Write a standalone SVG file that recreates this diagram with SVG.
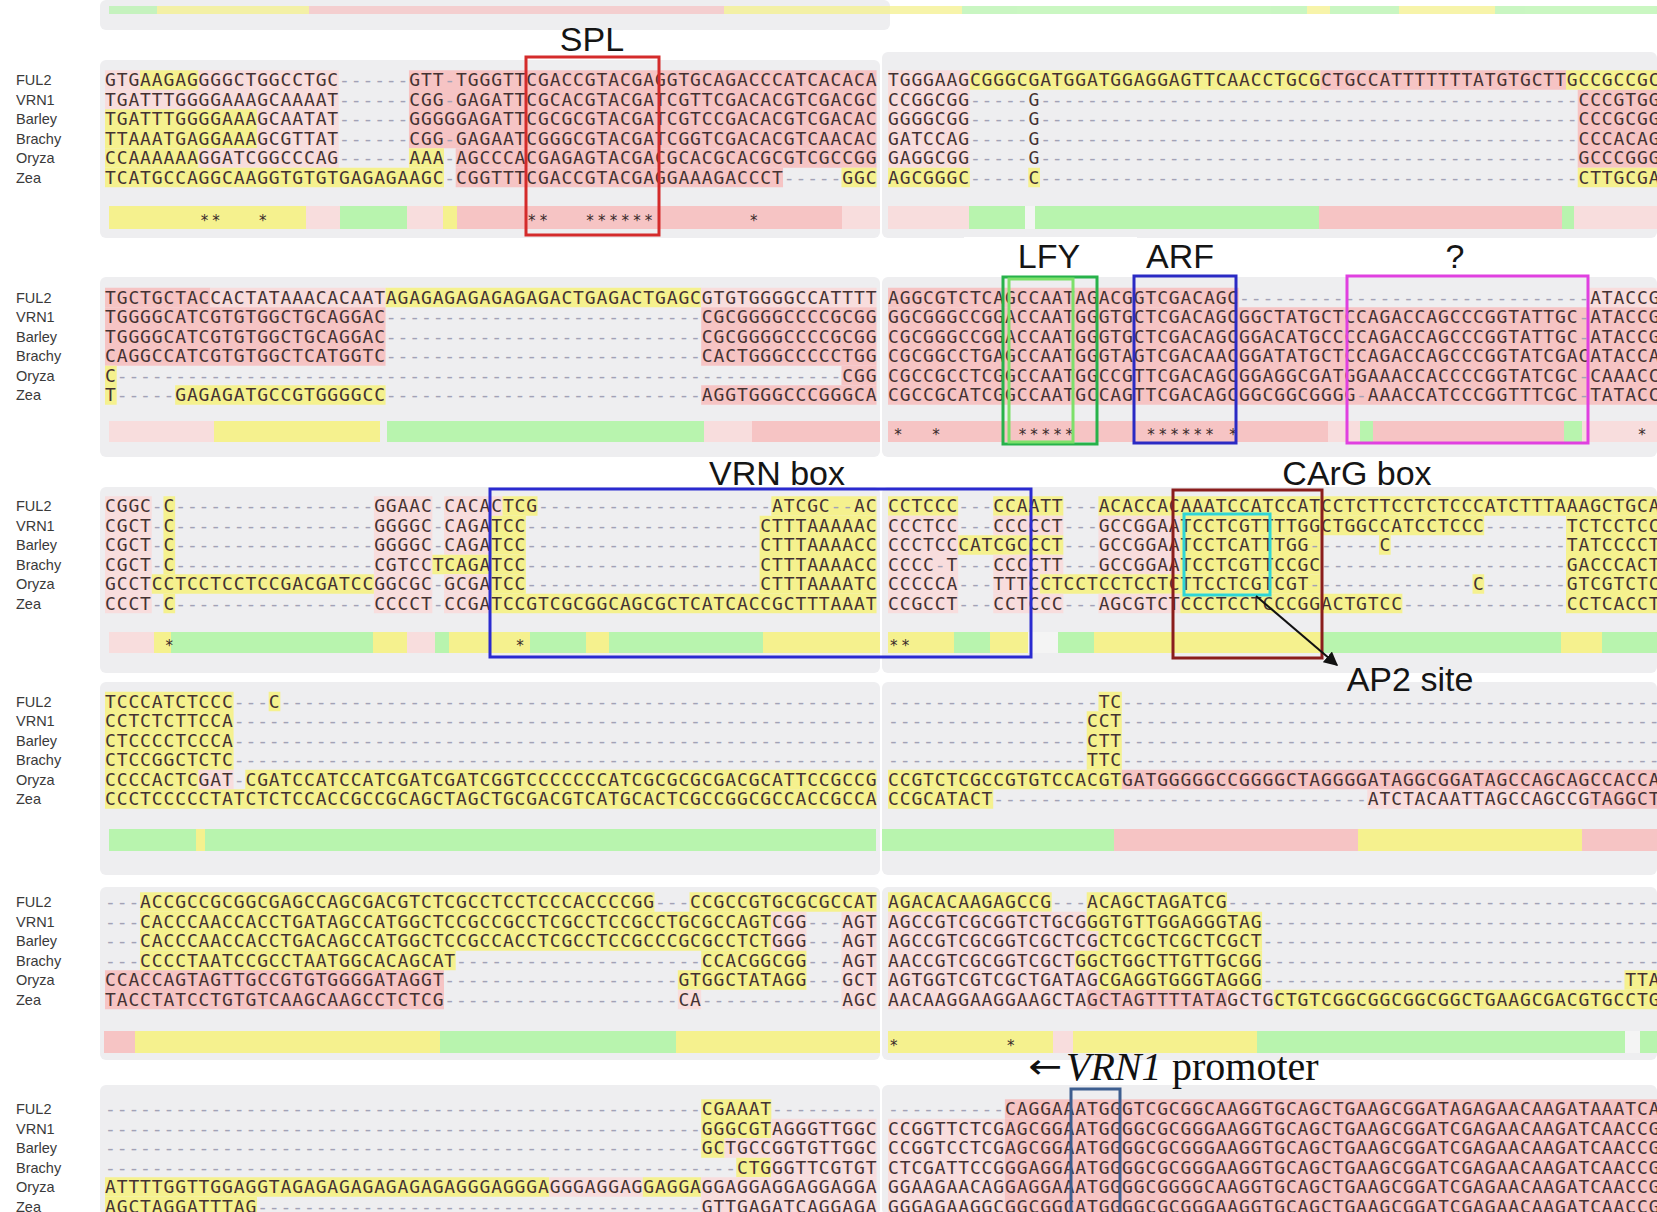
<svg xmlns="http://www.w3.org/2000/svg" width="1657" height="1212" viewBox="0 0 1657 1212">
<defs>
<style>
.s{font-family:"DejaVu Sans Mono","Liberation Mono",monospace;font-size:18px;fill:#443232}
.d{fill:#a2a2b6}
.lab{font-family:"Liberation Sans",Arial,sans-serif;font-size:14.5px;fill:#3a3a3a}
.ann{font-family:"Liberation Sans",Arial,sans-serif;font-size:34px;fill:#151515;text-anchor:middle}
.st{font-family:"DejaVu Sans Mono",monospace;font-size:15px;fill:#3a2a2a;text-anchor:middle}
.Y{fill:#f5f18e}.P{fill:#f6c4c4}.Q{fill:#f8dddd}.G{fill:#b8f4ae}.L{fill:#f4f4f4}
.pan{fill:#eeeef0}
.box{fill:none;stroke-width:3}
</style>
<marker id="ah" viewBox="0 0 10 10" refX="9" refY="5" markerWidth="7" markerHeight="7" orient="auto">
<path d="M0,0 L10,5 L0,10 z" fill="#111"/>
</marker>
</defs>
<rect x="0" y="0" width="1657" height="1212" fill="#ffffff"/>

<g id="top-strip">
<rect class="pan" x="100" y="0" width="790" height="30" rx="6"/>
<g opacity="0.75">
<rect class="G" x="109" y="6" width="48" height="8"/>
<rect class="Y" x="157" y="6" width="152" height="8"/>
<rect class="P" x="309" y="6" width="415" height="8"/>
<rect class="Y" x="724" y="6" width="238" height="8"/>
<rect class="G" x="962" y="6" width="345" height="8"/>
<rect class="Y" x="1307" y="6" width="23" height="8"/>
<rect class="G" x="1330" y="6" width="69" height="8"/>
<rect class="Y" x="1399" y="6" width="96" height="8"/>
<rect class="G" x="1495" y="6" width="162" height="8"/>
</g>
</g>

<!-- BLOCK 1 -->
<g id="block1">
<rect class="pan" x="100" y="60" width="780" height="178" rx="6"/>
<rect class="pan" x="882" y="52" width="775" height="186" rx="6"/>
<g transform="translate(105 70.25) scale(11.69 1)">
<rect class="P" x="26" y="0" width="40" height="78"/>
<rect class="P" x="30" y="78" width="36" height="19.5"/>
<rect class="P" x="30" y="97.5" width="28" height="19.5"/>
<rect class="Q" x="0" y="0" width="3" height="19.5"/>
<rect class="Y" x="3" y="0" width="5" height="19.5"/>
<rect class="Q" x="8" y="0" width="12" height="19.5"/>
<rect class="Q" x="0" y="19.5" width="20" height="19.5"/>
<rect class="Y" x="0" y="39" width="13" height="39"/>
<rect class="Q" x="13" y="39" width="7" height="39"/>
<rect class="Y" x="0" y="78" width="8" height="19.5"/>
<rect class="Q" x="8" y="78" width="12" height="19.5"/>
<rect class="Y" x="26" y="78" width="3" height="19.5"/>
<rect class="Y" x="0" y="97.5" width="29" height="19.5"/>
<rect class="Y" x="63" y="97.5" width="3" height="19.5"/>
</g>
<g transform="translate(888 70.25) scale(11.69 1)">
<rect class="Q" x="0" y="0" width="7" height="97.5"/>
<rect class="Y" x="7" y="0" width="30" height="19.5"/>
<rect class="P" x="37" y="0" width="21" height="19.5"/>
<rect class="Y" x="58" y="0" width="8" height="19.5"/>
<rect class="P" x="59" y="19.5" width="7" height="78"/>
<rect class="Y" x="0" y="97.5" width="7" height="19.5"/>
<rect class="Y" x="12" y="97.5" width="1" height="19.5"/>
<rect class="Y" x="59" y="97.5" width="7" height="19.5"/>
</g>
<g>
<rect class="Y" x="109" y="206" width="197" height="23"/>
<rect class="Q" x="306" y="206" width="34" height="23"/>
<rect class="G" x="340" y="206" width="67" height="23"/>
<rect class="Q" x="407" y="206" width="36" height="23"/>
<rect class="Y" x="443" y="206" width="14" height="23"/>
<rect class="P" x="457" y="206" width="385" height="23"/>
<rect class="Q" x="842" y="206" width="38" height="23"/>
<rect class="Q" x="888" y="206" width="81" height="23"/>
<rect class="G" x="969" y="206" width="56" height="23"/>
<rect class="L" x="1025" y="206" width="10" height="23"/>
<rect class="G" x="1035" y="206" width="284" height="23"/>
<rect class="P" x="1319" y="206" width="243" height="23"/>
<rect class="G" x="1562" y="206" width="12" height="23"/>
<rect class="Q" x="1574" y="206" width="83" height="23"/>
</g>
<text class="st" x="204.4 216.1 262.8 531.7 543.4 590.1 601.8 613.5 625.2 636.9 648.6 753.8" y="226">************</text>
<g transform="translate(0 80)">
<text class="lab" x="16" y="5">FUL2</text>
<text class="lab" x="16" y="24.5">VRN1</text>
<text class="lab" x="16" y="44">Barley</text>
<text class="lab" x="16" y="63.5">Brachy</text>
<text class="lab" x="16" y="83">Oryza</text>
<text class="lab" x="16" y="102.5">Zea</text>
<text class="s" x="105" y="6" textLength="771.5" lengthAdjust="spacing">GTGAAGAGGGGCTGGCCTGC<tspan class="d">------</tspan>GTT<tspan class="d">-</tspan>TGGGTTCGACCGTACGAGGTGCAGACCCATCACACA</text>
<text class="s" x="105" y="25.5" textLength="771.5" lengthAdjust="spacing">TGATTTGGGGAAAGCAAAAT<tspan class="d">------</tspan>CGG<tspan class="d">-</tspan>GAGATTCGCACGTACGATCGTTCGACACGTCGACGC</text>
<text class="s" x="105" y="45" textLength="771.5" lengthAdjust="spacing">TGATTTGGGGAAAGCAATAT<tspan class="d">------</tspan>GGGGGAGATTCGCGCGTACGATCGTCCGACACGTCGACAC</text>
<text class="s" x="105" y="64.5" textLength="771.5" lengthAdjust="spacing">TTAAATGAGGAAAGCGTTAT<tspan class="d">------</tspan>CGG<tspan class="d">-</tspan>GAGAATCGGGCGTACGATCGGTCGACACGTCAACAC</text>
<text class="s" x="105" y="84" textLength="771.5" lengthAdjust="spacing">CCAAAAAAGGATCGGCCCAG<tspan class="d">------</tspan>AAA<tspan class="d">-</tspan>AGCCCACGAGAGTACGACGCACGCACGCGTCGCCGG</text>
<text class="s" x="105" y="103.5" textLength="771.5" lengthAdjust="spacing">TCATGCCAGGCAAGGTGTGTGAGAGAAGC<tspan class="d">-</tspan>CGGTTTCGACCGTACGAGGAAAGACCCT<tspan class="d">-----</tspan>GGC</text>
<text class="s" x="888" y="6" textLength="771.5" lengthAdjust="spacing">TGGGAAGCGGGCGATGGATGGAGGAGTTCAACCTGCGCTGCCATTTTTTTATGTGCTTGCCGCCGC</text>
<text class="s" x="888" y="25.5" textLength="771.5" lengthAdjust="spacing">CCGGCGG<tspan class="d">-----</tspan>G<tspan class="d">----------------------------------------------</tspan>CCCGTGG</text>
<text class="s" x="888" y="45" textLength="771.5" lengthAdjust="spacing">GGGGCGG<tspan class="d">-----</tspan>G<tspan class="d">----------------------------------------------</tspan>CCCGCGG</text>
<text class="s" x="888" y="64.5" textLength="771.5" lengthAdjust="spacing">GATCCAG<tspan class="d">-----</tspan>G<tspan class="d">----------------------------------------------</tspan>CCCACAG</text>
<text class="s" x="888" y="84" textLength="771.5" lengthAdjust="spacing">GAGGCGG<tspan class="d">-----</tspan>G<tspan class="d">----------------------------------------------</tspan>GCCCGGG</text>
<text class="s" x="888" y="103.5" textLength="771.5" lengthAdjust="spacing">AGCGGGC<tspan class="d">-----</tspan>C<tspan class="d">----------------------------------------------</tspan>CTTGCGA</text>
</g>
</g>

<!-- BLOCK 2 -->
<g id="block2">
<rect class="pan" x="100" y="277" width="780" height="180" rx="6"/>
<rect class="pan" x="882" y="277" width="775" height="180" rx="6"/>
<g transform="translate(105 287.75) scale(11.69 1)">
<rect class="P" x="0" y="0" width="9" height="19.5"/>
<rect class="Q" x="9" y="0" width="15" height="19.5"/>
<rect class="Y" x="24" y="0" width="27" height="19.5"/>
<rect class="Q" x="51" y="0" width="15" height="19.5"/>
<rect class="P" x="0" y="19.5" width="24" height="58.5"/>
<rect class="P" x="51" y="19.5" width="15" height="58.5"/>
<rect class="Y" x="0" y="78" width="1" height="39"/>
<rect class="P" x="63" y="78" width="3" height="19.5"/>
<rect class="Y" x="6" y="97.5" width="18" height="19.5"/>
<rect class="P" x="51" y="97.5" width="15" height="19.5"/>
</g>
<g transform="translate(888 287.75) scale(11.69 1)">
<rect class="P" x="0" y="0" width="30" height="19.5"/>
<rect class="Q" x="60" y="0" width="6" height="19.5"/>
<rect class="P" x="0" y="19.5" width="66" height="97.5"/>
</g>
<g>
<rect class="Q" x="109" y="421" width="105" height="21"/>
<rect class="Y" x="214" y="421" width="166" height="21"/>
<rect class="G" x="387" y="421" width="317" height="21"/>
<rect class="Q" x="704" y="421" width="48" height="21"/>
<rect class="P" x="752" y="421" width="128" height="21"/>
<rect class="P" x="888" y="421" width="440" height="21"/>
<rect class="Q" x="1328" y="421" width="32" height="21"/>
<rect class="G" x="1360" y="421" width="13" height="21"/>
<rect class="P" x="1373" y="421" width="191" height="21"/>
<rect class="G" x="1564" y="421" width="18" height="21"/>
<rect class="Q" x="1582" y="421" width="75" height="21"/>
</g>
<text class="st" x="898 936 1022.4 1034.1 1045.8 1057.5 1069.2 1151 1162.7 1174.4 1186.1 1197.8 1209.5 1232.9 1642" y="440">***************</text>
<g transform="translate(0 297.5)">
<text class="lab" x="16" y="5">FUL2</text>
<text class="lab" x="16" y="24.5">VRN1</text>
<text class="lab" x="16" y="44">Barley</text>
<text class="lab" x="16" y="63.5">Brachy</text>
<text class="lab" x="16" y="83">Oryza</text>
<text class="lab" x="16" y="102.5">Zea</text>
<text class="s" x="105" y="6" textLength="771.5" lengthAdjust="spacing">TGCTGCTACCACTATAAACACAATAGAGAGAGAGAGAGACTGAGACTGAGCGTGTGGGGCCATTTT</text>
<text class="s" x="105" y="25.5" textLength="771.5" lengthAdjust="spacing">TGGGGCATCGTGTGGCTGCAGGAC<tspan class="d">---------------------------</tspan>CGCGGGGCCCCGCGG</text>
<text class="s" x="105" y="45" textLength="771.5" lengthAdjust="spacing">TGGGGCATCGTGTGGCTGCAGGAC<tspan class="d">---------------------------</tspan>CGCGGGGCCCCGCGG</text>
<text class="s" x="105" y="64.5" textLength="771.5" lengthAdjust="spacing">CAGGCCATCGTGTGGCTCATGGTC<tspan class="d">---------------------------</tspan>CACTGGGCCCCCTGG</text>
<text class="s" x="105" y="84" textLength="771.5" lengthAdjust="spacing">C<tspan class="d">--------------------------------------------------------------</tspan>CGG</text>
<text class="s" x="105" y="103.5" textLength="771.5" lengthAdjust="spacing">T<tspan class="d">-----</tspan>GAGAGATGCCGTGGGGCC<tspan class="d">---------------------------</tspan>AGGTGGGCCCGGGCA</text>
<text class="s" x="888" y="6" textLength="771.5" lengthAdjust="spacing">AGGCGTCTCAGCCAATAGACGGTCGACAGC<tspan class="d">------------------------------</tspan>ATACCG</text>
<text class="s" x="888" y="25.5" textLength="771.5" lengthAdjust="spacing">GGCGGGCCGGACCAATGGGTGCTCGACAGCGGCTATGCTCCAGACCAGCCCGGTATTGC<tspan class="d">-</tspan>ATACCG</text>
<text class="s" x="888" y="45" textLength="771.5" lengthAdjust="spacing">CGCGGGCCGGACCAATGGGTGCTCGACAGCGGACATGCCCCAGACCAGCCCGGTATTGC<tspan class="d">-</tspan>ATACCG</text>
<text class="s" x="888" y="64.5" textLength="771.5" lengthAdjust="spacing">CGCGGCCTGAGCCAATGGGTAGTCGACAACGGATATGCTCCAGACCAGCCCGGTATCGACATACCA</text>
<text class="s" x="888" y="84" textLength="771.5" lengthAdjust="spacing">CGCCGCCTCGGCCAATGGCCGTTCGACAGCGGAGGCGATGGAAACCACCCCGGTATCGC<tspan class="d">-</tspan>CAAACC</text>
<text class="s" x="888" y="103.5" textLength="771.5" lengthAdjust="spacing">CGCCGCATCGGCCAATGCCAGTTCGACAGCGGCGGCGGGG<tspan class="d">-</tspan>AAACCATCCCGGTTTCGC<tspan class="d">-</tspan>TATACC</text>
</g>
</g>

<!-- BLOCK 3 -->
<g id="block3">
<rect class="pan" x="100" y="487" width="780" height="186" rx="6"/>
<rect class="pan" x="882" y="487" width="775" height="186" rx="6"/>
<g transform="translate(105 496.25) scale(11.69 1)">
<rect class="Q" x="0" y="0" width="4" height="117"/>
<rect class="Y" x="5" y="0" width="1" height="78"/>
<rect class="Y" x="5" y="97.5" width="1" height="19.5"/>
<rect class="Q" x="23" y="0" width="5" height="117"/>
<rect class="Q" x="29" y="0" width="5" height="19.5"/>
<rect class="Y" x="34" y="0" width="3" height="19.5"/>
<rect class="Y" x="57" y="0" width="9" height="19.5"/>
<rect class="Q" x="29" y="19.5" width="4" height="39"/>
<rect class="Y" x="33" y="19.5" width="3" height="39"/>
<rect class="Y" x="56" y="19.5" width="10" height="78"/>
<rect class="Y" x="28" y="58.5" width="8" height="19.5"/>
<rect class="Y" x="4" y="78" width="19" height="19.5"/>
<rect class="Q" x="29" y="78" width="4" height="19.5"/>
<rect class="Y" x="33" y="78" width="3" height="19.5"/>
<rect class="Q" x="29" y="97.5" width="4" height="19.5"/>
<rect class="Y" x="33" y="97.5" width="33" height="19.5"/>
</g>
<g transform="translate(888 496.25) scale(11.69 1)">
<rect class="Y" x="0" y="0" width="6" height="19.5"/>
<rect class="Y" x="9" y="0" width="6" height="19.5"/>
<rect class="Y" x="18" y="0" width="48" height="19.5"/>
<rect class="Q" x="0" y="19.5" width="6" height="97.5"/>
<rect class="Q" x="9" y="19.5" width="6" height="19.5"/>
<rect class="Q" x="18" y="19.5" width="7" height="19.5"/>
<rect class="Y" x="25" y="19.5" width="26" height="19.5"/>
<rect class="Y" x="58" y="19.5" width="8" height="97.5"/>
<rect class="Y" x="6" y="39" width="9" height="19.5"/>
<rect class="Q" x="18" y="39" width="7" height="39"/>
<rect class="Y" x="25" y="39" width="12" height="39"/>
<rect class="Y" x="42" y="39" width="1" height="19.5"/>
<rect class="Q" x="9" y="58.5" width="6" height="19.5"/>
<rect class="Q" x="9" y="78" width="4" height="19.5"/>
<rect class="Y" x="13" y="78" width="24" height="19.5"/>
<rect class="Y" x="50" y="78" width="1" height="19.5"/>
<rect class="Q" x="9" y="97.5" width="6" height="19.5"/>
<rect class="Q" x="18" y="97.5" width="7" height="19.5"/>
<rect class="Y" x="25" y="97.5" width="19" height="19.5"/>
</g>
<g>
<rect class="Q" x="109" y="632" width="45" height="21"/>
<rect class="Y" x="154" y="632" width="17" height="21"/>
<rect class="G" x="171" y="632" width="202" height="21"/>
<rect class="Y" x="373" y="632" width="34" height="21"/>
<rect class="Q" x="407" y="632" width="28" height="21"/>
<rect class="G" x="435" y="632" width="14" height="21"/>
<rect class="Y" x="449" y="632" width="81" height="21"/>
<rect class="G" x="530" y="632" width="56" height="21"/>
<rect class="Y" x="586" y="632" width="23" height="21"/>
<rect class="G" x="609" y="632" width="154" height="21"/>
<rect class="Y" x="763" y="632" width="117" height="21"/>
<rect class="Y" x="888" y="632" width="66" height="21"/>
<rect class="G" x="954" y="632" width="36" height="21"/>
<rect class="Y" x="990" y="632" width="38" height="21"/>
<rect class="L" x="1028" y="632" width="30" height="21"/>
<rect class="G" x="1058" y="632" width="36" height="21"/>
<rect class="Y" x="1094" y="632" width="229" height="21"/>
<rect class="G" x="1323" y="632" width="238" height="21"/>
<rect class="Y" x="1561" y="632" width="41" height="21"/>
<rect class="G" x="1602" y="632" width="55" height="21"/>
</g>
<text class="st" x="169.3 520 893.8 905.5" y="651">****</text>
<g transform="translate(0 506)">
<text class="lab" x="16" y="5">FUL2</text>
<text class="lab" x="16" y="24.5">VRN1</text>
<text class="lab" x="16" y="44">Barley</text>
<text class="lab" x="16" y="63.5">Brachy</text>
<text class="lab" x="16" y="83">Oryza</text>
<text class="lab" x="16" y="102.5">Zea</text>
<text class="s" x="105" y="6" textLength="771.5" lengthAdjust="spacing">CGGC<tspan class="d">-</tspan>C<tspan class="d">-----------------</tspan>GGAAC<tspan class="d">-</tspan>CACACTCG<tspan class="d">--------------------</tspan>ATCGC<tspan class="d">--</tspan>AC</text>
<text class="s" x="105" y="25.5" textLength="771.5" lengthAdjust="spacing">CGCT<tspan class="d">-</tspan>C<tspan class="d">-----------------</tspan>GGGGC<tspan class="d">-</tspan>CAGATCC<tspan class="d">--------------------</tspan>CTTTAAAAAC</text>
<text class="s" x="105" y="45" textLength="771.5" lengthAdjust="spacing">CGCT<tspan class="d">-</tspan>C<tspan class="d">-----------------</tspan>GGGGC<tspan class="d">-</tspan>CAGATCC<tspan class="d">--------------------</tspan>CTTTAAAACC</text>
<text class="s" x="105" y="64.5" textLength="771.5" lengthAdjust="spacing">CGCT<tspan class="d">-</tspan>C<tspan class="d">-----------------</tspan>CGTCCTCAGATCC<tspan class="d">--------------------</tspan>CTTTAAAACC</text>
<text class="s" x="105" y="84" textLength="771.5" lengthAdjust="spacing">GCCTCCTCCTCCTCCGACGATCCGGCGC<tspan class="d">-</tspan>GCGATCC<tspan class="d">--------------------</tspan>CTTTAAAATC</text>
<text class="s" x="105" y="103.5" textLength="771.5" lengthAdjust="spacing">CCCT<tspan class="d">-</tspan>C<tspan class="d">-----------------</tspan>CCCCT<tspan class="d">-</tspan>CCGATCCGTCGCGGCAGCGCTCATCACCGCTTTAAAT</text>
<text class="s" x="888" y="6" textLength="771.5" lengthAdjust="spacing">CCTCCC<tspan class="d">---</tspan>CCAATT<tspan class="d">---</tspan>ACACCACAAATCCATCCATCCTCTTCCTCTCCCATCTTTAAAGCTGCA</text>
<text class="s" x="888" y="25.5" textLength="771.5" lengthAdjust="spacing">CCCTCC<tspan class="d">---</tspan>CCCCCT<tspan class="d">---</tspan>GCCGGAATCCTCGTTTTGGCTGGCCATCCTCCC<tspan class="d">-------</tspan>TCTCCTCC</text>
<text class="s" x="888" y="45" textLength="771.5" lengthAdjust="spacing">CCCTCCCATCGCCCT<tspan class="d">---</tspan>GCCGGAATCCTCATTTGG<tspan class="d">------</tspan>C<tspan class="d">---------------</tspan>TATCCCCT</text>
<text class="s" x="888" y="64.5" textLength="771.5" lengthAdjust="spacing">CCCC<tspan class="d">-</tspan>T<tspan class="d">---</tspan>CCCCTT<tspan class="d">---</tspan>GCCGGAATCCTCGTTCCGC<tspan class="d">---------------------</tspan>GACCCACT</text>
<text class="s" x="888" y="84" textLength="771.5" lengthAdjust="spacing">CCCCCA<tspan class="d">---</tspan>TTTCCTCCTCCTCCTCTTCCTCGTCGT<tspan class="d">--------------</tspan>C<tspan class="d">-------</tspan>GTCGTCTC</text>
<text class="s" x="888" y="103.5" textLength="771.5" lengthAdjust="spacing">CCGCCT<tspan class="d">---</tspan>CCTCCC<tspan class="d">---</tspan>AGCGTCTCCCTCCTCCCGGACTGTCC<tspan class="d">--------------</tspan>CCTCACCT</text>
</g>
</g>

<!-- BLOCK 4 -->
<g id="block4">
<rect class="pan" x="100" y="682" width="780" height="193" rx="6"/>
<rect class="pan" x="882" y="682" width="775" height="193" rx="6"/>
<g transform="translate(105 691.75) scale(11.69 1)">
<rect class="Y" x="0" y="0" width="11" height="78"/>
<rect class="Y" x="14" y="0" width="1" height="19.5"/>
<rect class="Y" x="0" y="78" width="8" height="19.5"/>
<rect class="Q" x="8" y="78" width="3" height="19.5"/>
<rect class="Y" x="12" y="78" width="54" height="19.5"/>
<rect class="Y" x="0" y="97.5" width="66" height="19.5"/>
</g>
<g transform="translate(888 691.75) scale(11.69 1)">
<rect class="Y" x="18" y="0" width="2" height="19.5"/>
<rect class="Y" x="17" y="19.5" width="3" height="58.5"/>
<rect class="Y" x="0" y="78" width="20" height="19.5"/>
<rect class="P" x="20" y="78" width="46" height="19.5"/>
<rect class="Y" x="0" y="97.5" width="9" height="19.5"/>
<rect class="Q" x="41" y="97.5" width="19" height="19.5"/>
<rect class="P" x="60" y="97.5" width="6" height="19.5"/>
</g>
<g>
<rect class="G" x="109" y="829" width="87" height="22"/>
<rect class="Y" x="196" y="829" width="9" height="22"/>
<rect class="G" x="205" y="829" width="671" height="22"/>
<rect class="G" x="882" y="829" width="232" height="22"/>
<rect class="P" x="1114" y="829" width="244" height="22"/>
<rect class="Y" x="1358" y="829" width="224" height="22"/>
<rect class="P" x="1582" y="829" width="75" height="22"/>
</g>
<g transform="translate(0 701.5)">
<text class="lab" x="16" y="5">FUL2</text>
<text class="lab" x="16" y="24.5">VRN1</text>
<text class="lab" x="16" y="44">Barley</text>
<text class="lab" x="16" y="63.5">Brachy</text>
<text class="lab" x="16" y="83">Oryza</text>
<text class="lab" x="16" y="102.5">Zea</text>
<text class="s" x="105" y="6" textLength="771.5" lengthAdjust="spacing">TCCCATCTCCC<tspan class="d">---</tspan>C<tspan class="d">---------------------------------------------------</tspan></text>
<text class="s" x="105" y="25.5" textLength="771.5" lengthAdjust="spacing">CCTCTCTTCCA<tspan class="d">-------------------------------------------------------</tspan></text>
<text class="s" x="105" y="45" textLength="771.5" lengthAdjust="spacing">CTCCCCTCCCA<tspan class="d">-------------------------------------------------------</tspan></text>
<text class="s" x="105" y="64.5" textLength="771.5" lengthAdjust="spacing">CTCCGGCTCTC<tspan class="d">-------------------------------------------------------</tspan></text>
<text class="s" x="105" y="84" textLength="771.5" lengthAdjust="spacing">CCCCACTCGAT<tspan class="d">-</tspan>CGATCCATCCATCGATCGATCGGTCCCCCCCATCGCGCGCGACGCATTCCGCCG</text>
<text class="s" x="105" y="103.5" textLength="771.5" lengthAdjust="spacing">CCCTCCCCCTATCTCTCCACCGCCGCAGCTAGCTGCGACGTCATGCACTCGCCGGCGCCACCGCCA</text>
<text class="s" x="888" y="6" textLength="771.5" lengthAdjust="spacing"><tspan class="d">------------------</tspan>TC<tspan class="d">----------------------------------------------</tspan></text>
<text class="s" x="888" y="25.5" textLength="771.5" lengthAdjust="spacing"><tspan class="d">-----------------</tspan>CCT<tspan class="d">----------------------------------------------</tspan></text>
<text class="s" x="888" y="45" textLength="771.5" lengthAdjust="spacing"><tspan class="d">-----------------</tspan>CTT<tspan class="d">----------------------------------------------</tspan></text>
<text class="s" x="888" y="64.5" textLength="771.5" lengthAdjust="spacing"><tspan class="d">-----------------</tspan>TTC<tspan class="d">----------------------------------------------</tspan></text>
<text class="s" x="888" y="84" textLength="771.5" lengthAdjust="spacing">CCGTCTCGCCGTGTCCACGTGATGGGGGCCGGGGCTAGGGGATAGGCGGATAGCCAGCAGCCACCA</text>
<text class="s" x="888" y="103.5" textLength="771.5" lengthAdjust="spacing">CCGCATACT<tspan class="d">--------------------------------</tspan>ATCTACAATTAGCCAGCCGTAGGCT</text>
</g>
</g>

<!-- BLOCK 5 -->
<g id="block5">
<rect class="pan" x="100" y="887" width="780" height="173" rx="6"/>
<rect class="pan" x="882" y="887" width="775" height="173" rx="6"/>
<g transform="translate(105 892.25) scale(11.69 1)">
<rect class="Y" x="3" y="0" width="44" height="19.5"/>
<rect class="Y" x="50" y="0" width="16" height="19.5"/>
<rect class="Y" x="3" y="19.5" width="54" height="39"/>
<rect class="Q" x="57" y="19.5" width="3" height="39"/>
<rect class="Q" x="63" y="19.5" width="3" height="97.5"/>
<rect class="Y" x="3" y="58.5" width="27" height="19.5"/>
<rect class="Y" x="51" y="58.5" width="9" height="19.5"/>
<rect class="P" x="0" y="78" width="29" height="39"/>
<rect class="Y" x="49" y="78" width="11" height="19.5"/>
<rect class="Q" x="49" y="97.5" width="2" height="19.5"/>
</g>
<g transform="translate(888 892.25) scale(11.69 1)">
<rect class="Y" x="0" y="0" width="14" height="19.5"/>
<rect class="Y" x="17" y="0" width="12" height="19.5"/>
<rect class="Q" x="0" y="19.5" width="17" height="19.5"/>
<rect class="Y" x="17" y="19.5" width="15" height="19.5"/>
<rect class="Q" x="0" y="39" width="18" height="19.5"/>
<rect class="Y" x="18" y="39" width="14" height="19.5"/>
<rect class="Q" x="0" y="58.5" width="16" height="19.5"/>
<rect class="Y" x="16" y="58.5" width="16" height="19.5"/>
<rect class="Q" x="0" y="78" width="18" height="19.5"/>
<rect class="Y" x="18" y="78" width="14" height="19.5"/>
<rect class="Y" x="63" y="78" width="3" height="19.5"/>
<rect class="Q" x="0" y="97.5" width="17" height="19.5"/>
<rect class="P" x="17" y="97.5" width="12" height="19.5"/>
<rect class="Q" x="29" y="97.5" width="4" height="19.5"/>
<rect class="Y" x="33" y="97.5" width="33" height="19.5"/>
</g>
<g>
<rect class="P" x="104" y="1031" width="31" height="22"/>
<rect class="Y" x="135" y="1031" width="305" height="22"/>
<rect class="G" x="440" y="1031" width="236" height="22"/>
<rect class="Y" x="676" y="1031" width="204" height="22"/>
<rect class="Y" x="888" y="1031" width="165" height="22"/>
<rect class="Q" x="1053" y="1031" width="20" height="22"/>
<rect class="Y" x="1073" y="1031" width="184" height="22"/>
<rect class="G" x="1257" y="1031" width="368" height="22"/>
<rect class="L" x="1625" y="1031" width="15" height="22"/>
<rect class="G" x="1640" y="1031" width="17" height="22"/>
</g>
<text class="st" x="893.8 1010.7" y="1051">**</text>
<g transform="translate(0 902)">
<text class="lab" x="16" y="5">FUL2</text>
<text class="lab" x="16" y="24.5">VRN1</text>
<text class="lab" x="16" y="44">Barley</text>
<text class="lab" x="16" y="63.5">Brachy</text>
<text class="lab" x="16" y="83">Oryza</text>
<text class="lab" x="16" y="102.5">Zea</text>
<text class="s" x="105" y="6" textLength="771.5" lengthAdjust="spacing"><tspan class="d">---</tspan>ACCGCCGCGGCGAGCCAGCGACGTCTCGCCTCCTCCCACCCCGG<tspan class="d">---</tspan>CCGCCGTGCGCGCCAT</text>
<text class="s" x="105" y="25.5" textLength="771.5" lengthAdjust="spacing"><tspan class="d">---</tspan>CACCCAACCACCTGATAGCCATGGCTCCGCCGCCTCGCCTCCGCCTGCGCCAGTCGG<tspan class="d">---</tspan>AGT</text>
<text class="s" x="105" y="45" textLength="771.5" lengthAdjust="spacing"><tspan class="d">---</tspan>CACCCAACCACCTGACAGCCATGGCTCCGCCACCTCGCCTCCGCCCGCGCCTCTGGG<tspan class="d">---</tspan>AGT</text>
<text class="s" x="105" y="64.5" textLength="771.5" lengthAdjust="spacing"><tspan class="d">---</tspan>CCCCTAATCCGCCTAATGGCACAGCAT<tspan class="d">---------------------</tspan>CCACGGCGG<tspan class="d">---</tspan>AGT</text>
<text class="s" x="105" y="84" textLength="771.5" lengthAdjust="spacing">CCACCAGTAGTTGCCGTGTGGGGATAGGT<tspan class="d">--------------------</tspan>GTGGCTATAGG<tspan class="d">---</tspan>GCT</text>
<text class="s" x="105" y="103.5" textLength="771.5" lengthAdjust="spacing">TACCTATCCTGTGTCAAGCAAGCCTCTCG<tspan class="d">--------------------</tspan>CA<tspan class="d">------------</tspan>AGC</text>
<text class="s" x="888" y="6" textLength="771.5" lengthAdjust="spacing">AGACACAAGAGCCG<tspan class="d">---</tspan>ACAGCTAGATCG<tspan class="d">-------------------------------------</tspan></text>
<text class="s" x="888" y="25.5" textLength="771.5" lengthAdjust="spacing">AGCCGTCGCGGTCTGCGGGTGTTGGAGGGTAG<tspan class="d">----------------------------------</tspan></text>
<text class="s" x="888" y="45" textLength="771.5" lengthAdjust="spacing">AGCCGTCGCGGTCGCTCGCTCGCTCGCTCGCT<tspan class="d">----------------------------------</tspan></text>
<text class="s" x="888" y="64.5" textLength="771.5" lengthAdjust="spacing">AACCGTCGCGGTCGCTGGCTGGCTTGTTGCGG<tspan class="d">----------------------------------</tspan></text>
<text class="s" x="888" y="84" textLength="771.5" lengthAdjust="spacing">AGTGGTCGTCGCTGATAGCGAGGTGGGTAGGG<tspan class="d">-------------------------------</tspan>TTA</text>
<text class="s" x="888" y="103.5" textLength="771.5" lengthAdjust="spacing">AACAAGGAAGGAAGCTAGCTAGTTTTATAGCTGCTGTCGGCGGCGGCGGCTGAAGCGACGTGCCTG</text>
</g>
</g>

<!-- BLOCK 6 -->
<g id="block6">
<rect class="pan" x="100" y="1085" width="780" height="130" rx="6"/>
<rect class="pan" x="882" y="1085" width="775" height="130" rx="6"/>
<g transform="translate(105 1099.25) scale(11.69 1)">
<rect class="Y" x="51" y="0" width="6" height="39"/>
<rect class="Q" x="57" y="19.5" width="9" height="19.5"/>
<rect class="Y" x="51" y="39" width="2" height="19.5"/>
<rect class="Q" x="53" y="39" width="13" height="19.5"/>
<rect class="Y" x="54" y="58.5" width="3" height="19.5"/>
<rect class="Q" x="57" y="58.5" width="9" height="19.5"/>
<rect class="Y" x="0" y="78" width="38" height="19.5"/>
<rect class="Q" x="38" y="78" width="8" height="19.5"/>
<rect class="Y" x="46" y="78" width="5" height="19.5"/>
<rect class="Q" x="51" y="78" width="15" height="39"/>
<rect class="Y" x="0" y="97.5" width="13" height="19.5"/>
</g>
<g transform="translate(888 1099.25) scale(11.69 1)">
<rect class="P" x="10" y="0" width="56" height="19.5"/>
<rect class="Q" x="0" y="19.5" width="10" height="97.5"/>
<rect class="P" x="10" y="19.5" width="56" height="97.5"/>
</g>
<g transform="translate(0 1109)">
<text class="lab" x="16" y="5">FUL2</text>
<text class="lab" x="16" y="24.5">VRN1</text>
<text class="lab" x="16" y="44">Barley</text>
<text class="lab" x="16" y="63.5">Brachy</text>
<text class="lab" x="16" y="83">Oryza</text>
<text class="lab" x="16" y="102.5">Zea</text>
<text class="s" x="105" y="6" textLength="771.5" lengthAdjust="spacing"><tspan class="d">---------------------------------------------------</tspan>CGAAAT<tspan class="d">---------</tspan></text>
<text class="s" x="105" y="25.5" textLength="771.5" lengthAdjust="spacing"><tspan class="d">---------------------------------------------------</tspan>GGGCGTAGGGTTGGC</text>
<text class="s" x="105" y="45" textLength="771.5" lengthAdjust="spacing"><tspan class="d">---------------------------------------------------</tspan>GCTGCCGGTGTTGGC</text>
<text class="s" x="105" y="64.5" textLength="771.5" lengthAdjust="spacing"><tspan class="d">------------------------------------------------------</tspan>CTGGGTTCGTGT</text>
<text class="s" x="105" y="84" textLength="771.5" lengthAdjust="spacing">ATTTTGGTTGGAGGTAGAGAGAGAGAGAGAGGGAGGGAGGGAGGAGGAGGAGGAGGAGGAGGAGGA</text>
<text class="s" x="105" y="103.5" textLength="771.5" lengthAdjust="spacing">AGCTAGGATTTAG<tspan class="d">--------------------------------------</tspan>GTTGAGATCAGGAGA</text>
<text class="s" x="888" y="6" textLength="771.5" lengthAdjust="spacing"><tspan class="d">----------</tspan>CAGGAAATGGGTCGCGGCAAGGTGCAGCTGAAGCGGATAGAGAACAAGATAAATCA</text>
<text class="s" x="888" y="25.5" textLength="771.5" lengthAdjust="spacing">CCGGTTCTCGAGCGGAATGGGGCGCGGGAAGGTGCAGCTGAAGCGGATCGAGAACAAGATCAACCG</text>
<text class="s" x="888" y="45" textLength="771.5" lengthAdjust="spacing">CCGGTCCTCGAGCGGAATGGGGCGCGGGAAGGTGCAGCTGAAGCGGATCGAGAACAAGATCAACCG</text>
<text class="s" x="888" y="64.5" textLength="771.5" lengthAdjust="spacing">CTCGATTCCGGGAGGAATGGGGCGCGGGAAGGTGCAGCTGAAGCGGATCGAGAACAAGATCAACCG</text>
<text class="s" x="888" y="84" textLength="771.5" lengthAdjust="spacing">GGAAGAACAGGAGGAAATGGGGCGGGGCAAGGTGCAGCTGAAGCGGATCGAGAACAAGATCAACCG</text>
<text class="s" x="888" y="103.5" textLength="771.5" lengthAdjust="spacing">GGGAGAAGGCGGCGGCATGGGGCGCGGGAAGGTGCAGCTGAAGCGGATCGAGAACAAGATCAACCG</text>
</g>
</g>

<!-- ANNOTATIONS -->
<g id="spl">
<text class="ann" x="592" y="51">SPL</text>
<rect class="box" x="526" y="57" width="133" height="178" stroke="#d42b2b"/>
</g>
<g id="lfy">
<rect x="964" y="237" width="173" height="39" fill="#ffffff"/>
<text class="ann" x="1049" y="268">LFY</text>
<rect class="box" x="1003" y="277" width="94" height="167" stroke="#27b24a" stroke-width="2.5"/>
<rect class="box" x="1009" y="279" width="64" height="163" stroke="#7de06a" stroke-width="2"/>
</g>
<g id="arf">
<text class="ann" x="1180" y="268">ARF</text>
<rect class="box" x="1134" y="276" width="102" height="167" stroke="#2a2ac4"/>
</g>
<g id="unknown">
<text class="ann" x="1455" y="268">?</text>
<rect class="box" x="1347" y="276" width="241" height="167" stroke="#e040e0"/>
</g>
<g id="vrnbox">
<text class="ann" x="777" y="485">VRN box</text>
<rect class="box" x="490" y="489" width="541" height="168" stroke="#2a2ad0"/>
</g>
<g id="cargbox">
<text class="ann" x="1357" y="485">CArG box</text>
<rect class="box" x="1173" y="490" width="149" height="168" stroke="#8a1d1d"/>
<rect class="box" x="1184" y="514" width="86" height="81" stroke="#2ed6d6" stroke-width="3.5"/>
</g>
<g id="ap2">
<text class="ann" x="1410" y="691">AP2 site</text>
</g>
<g id="connectors">
<line x1="1256" y1="596" x2="1337" y2="665" stroke="#111" stroke-width="2" marker-end="url(#ah)"/>
</g>
<g id="promoter">
<text x="1028" y="1078" font-family="DejaVu Sans, sans-serif" font-size="34" fill="#111" textLength="34" lengthAdjust="spacingAndGlyphs">←</text>
<text x="1066" y="1080" font-family="Liberation Serif, serif" font-size="40" font-style="italic" fill="#111">VRN1</text>
<text x="1172" y="1080" font-family="Liberation Serif, serif" font-size="40" fill="#111">promoter</text>
<rect class="box" x="1071" y="1089" width="49" height="140" stroke="#3d5e8f" stroke-width="3.5"/>
</g>
</svg>
